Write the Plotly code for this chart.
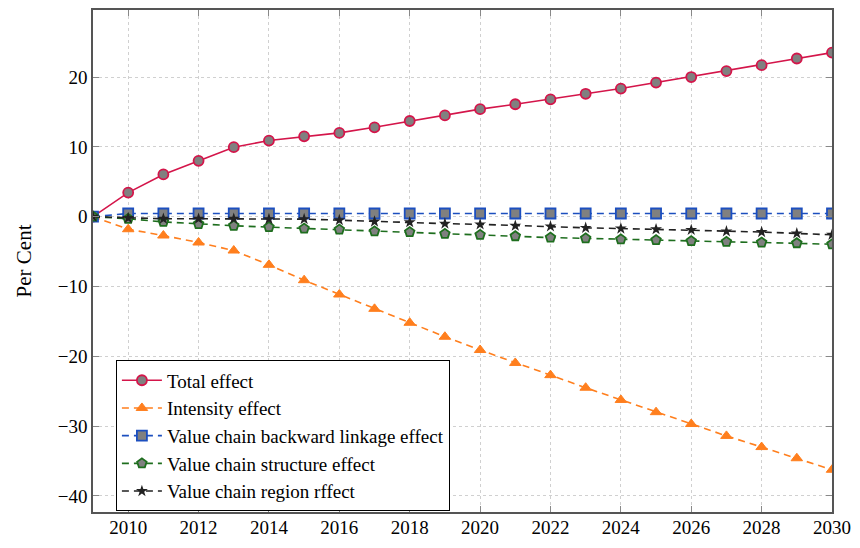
import plotly.graph_objects as go

# years 2009-2030
years = list(range(2009, 2031))

total_effect = [0, 3.45, 6.05, 8.0, 9.95, 10.9, 11.5, 12.0, 12.8, 13.7, 14.5,
                15.4, 16.1, 16.8, 17.6, 18.35, 19.2, 20.0, 20.85, 21.7, 22.65, 23.5]
intensity_effect = [0, -1.8, -2.7, -3.7, -4.85, -6.9, -9.1, -11.15, -13.2, -15.2, -17.2,
                    -19.1, -20.95, -22.7, -24.5, -26.25, -28.0, -29.7, -31.4, -33.0, -34.6, -36.25]
backward_effect = [0, 0.45, 0.45, 0.45, 0.45, 0.45, 0.45, 0.45, 0.45, 0.45, 0.45,
                   0.45, 0.45, 0.45, 0.45, 0.45, 0.45, 0.45, 0.45, 0.45, 0.45, 0.45]
structure_effect = [0, -0.3, -0.75, -1.05, -1.3, -1.5, -1.7, -1.85, -2.1, -2.2, -2.45,
                    -2.6, -2.8, -3.0, -3.1, -3.25, -3.35, -3.5, -3.6, -3.7, -3.8, -3.95]
region_effect = [0, -0.2, -0.3, -0.3, -0.3, -0.35, -0.35, -0.5, -0.7, -0.8, -1.0,
                 -1.1, -1.3, -1.4, -1.6, -1.7, -1.8, -1.9, -2.1, -2.2, -2.4, -2.6]

x_ticks = list(range(2010, 2031, 2))
y_ticks = [-40, -30, -20, -10, 0, 10, 20]

FONT = "Liberation Serif, DejaVu Serif, serif"
GREY = "#808080"
DASH = "7px,5px"

fig = go.Figure()

fig.add_trace(go.Scatter(
    x=years, y=total_effect, name="Total effect", mode="lines+markers",
    line=dict(color="#D4154A", width=1.6),
    marker=dict(symbol="circle", size=10, color=GREY, line=dict(color="#D4154A", width=1.8)),
))
fig.add_trace(go.Scatter(
    x=years, y=intensity_effect, name="Intensity effect", mode="lines+markers",
    line=dict(color="#FF7F1E", width=1.6, dash=DASH),
    marker=dict(symbol="triangle-up", size=10, color="#FF7F1E", line=dict(color="#FF7F1E", width=1)),
))
fig.add_trace(go.Scatter(
    x=years, y=backward_effect, name="Value chain backward linkage effect", mode="lines+markers",
    line=dict(color="#1C4FBF", width=1.6, dash=DASH),
    marker=dict(symbol="square", size=10, color=GREY, line=dict(color="#1C4FBF", width=1.8)),
))
fig.add_trace(go.Scatter(
    x=years, y=structure_effect, name="Value chain structure effect", mode="lines+markers",
    line=dict(color="#1E6E1E", width=1.6, dash=DASH),
    marker=dict(symbol="pentagon", size=10, color=GREY, line=dict(color="#1E6E1E", width=1.8)),
))
fig.add_trace(go.Scatter(
    x=years, y=region_effect, name="Value chain region rffect", mode="lines+markers",
    line=dict(color="#222222", width=1.6, dash=DASH),
    marker=dict(symbol="star", size=9, color="#222222", line=dict(width=0)),
))

# page body keeps an 8px margin, so the margins here are shifted by that
fig.update_layout(
    margin=dict(l=85, r=20, t=2, b=28),
    plot_bgcolor="white", paper_bgcolor="white",
    font=dict(family=FONT, size=19, color="black"),
    showlegend=True,
    legend=dict(
        x=0.031, y=0.302, xanchor="left", yanchor="top",
        bgcolor="white", bordercolor="black", borderwidth=1,
        font=dict(family=FONT, size=19, color="black"),
        tracegroupgap=0, itemwidth=40,
    ),
    xaxis=dict(
        range=[2009, 2030], tickvals=x_ticks, automargin=False,
        ticklabeloverflow="allow", ticklabelstandoff=-3,
        showgrid=True, gridcolor="#d0d0d0", griddash="dot", gridwidth=1,
        zeroline=False, showline=True, linecolor="#555555", linewidth=1.5,
        mirror="allticks", ticks="inside", ticklen=6, tickcolor="#888888",
        tickfont=dict(family=FONT, size=19),
    ),
    yaxis=dict(
        range=[-42.3, 29.6], tickvals=y_ticks,
        showgrid=True, gridcolor="#d0d0d0", griddash="dot", gridwidth=1,
        zeroline=False, showline=True, linecolor="#555555", linewidth=1.5,
        mirror="allticks", ticks="inside", ticklen=6, tickcolor="#888888",
        tickfont=dict(family=FONT, size=19),
        title=dict(text="Per Cent", font=dict(family=FONT, size=21), standoff=20),
    ),
)

fig.write_html("out.html")
